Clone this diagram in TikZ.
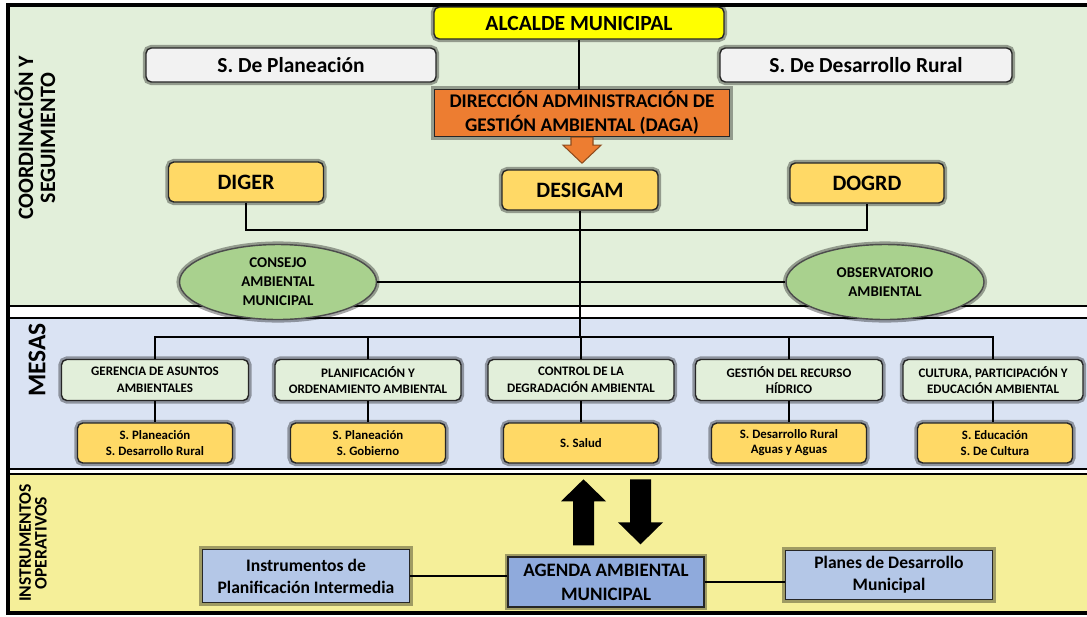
\documentclass[tikz,border=0pt]{standalone}
\usepackage{fontspec}
\setmainfont{Carlito}
\usepackage{color}
\definecolor{green1}{RGB}{226,239,218}
\definecolor{green2}{RGB}{169,209,142}
\definecolor{blue1}{RGB}{218,227,243}
\definecolor{blue2}{RGB}{180,199,231}
\definecolor{blue3}{RGB}{143,170,220}
\definecolor{yellow1}{RGB}{245,239,153}
\definecolor{yellow2}{RGB}{255,217,102}
\definecolor{yellow3}{RGB}{255,255,0}
\definecolor{orange1}{RGB}{237,125,49}
\definecolor{gray1}{RGB}{242,242,242}
\usepackage{tikz}
\usetikzlibrary{shapes.geometric,calc}
\tikzstyle{glow} = [preaction={draw=black,opacity=0.35,line width=3.5pt}]
\tikzstyle{box} = [rectangle,draw=black!85,line width=0.8pt,inner sep=1pt,align=center,glow]
\tikzstyle{roundbox} = [box,rounded corners=3pt]
\tikzstyle{oficina} = [roundbox,fill=yellow2,font=\fontsize{12.5}{14}\selectfont\bfseries]
\tikzstyle{secretaria} = [roundbox,fill=gray1,font=\fontsize{12.2}{14}\selectfont\bfseries]
\tikzstyle{consejo} = [ellipse,draw=black!70,line width=0.8pt,fill=green2,glow,align=center,inner sep=0pt,font=\fontsize{8.5}{10.8}\selectfont\bfseries]
\tikzstyle{mesa} = [roundbox,fill=green1,font=\fontsize{7.4}{9.5}\selectfont\bfseries]
\tikzstyle{apoyo} = [roundbox,fill=yellow2,font=\fontsize{7.3}{8.6}\selectfont\bfseries]
\tikzstyle{instrumento} = [box,fill=blue2,font=\fontsize{10}{12.5}\selectfont\bfseries]
\tikzstyle{seccion} = [align=center,font=\fontsize{12.5}{12.5}\selectfont\bfseries]
\tikzstyle{flecha1} = [fill=orange1,draw=orange1!60!black,line width=0.6pt]
\tikzstyle{flecha2} = [fill=black]
\tikzset{dims/.style 2 args={minimum width=#1*0.2mm,minimum height=#2*0.2mm}}

\begin{document}
\begin{tikzpicture}[x=0.02cm,y=-0.02cm,line width=0.8pt]
    \useasboundingbox (0,0) rectangle (1087,616);
    % fondos de las franjas
    \fill[green1] (8,5) rectangle (1087,306);
    \fill[blue1] (8,318) rectangle (1087,469);
    \fill[yellow1] (8,474) rectangle (1087,613);
    \draw[line width=0.6pt] (8,306) -- (1087,306) (8,318) -- (1087,318)
      (8,469) -- (1087,469) (8,474) -- (1087,474);
    \draw[line width=2.2pt] (1087,5) -- (8,5) -- (8,613) -- (1087,613);

    \node[seccion,rotate=90] (coord) at (35,138) {COORDINACIÓN Y\\SEGUIMIENTO};
    \node[seccion,rotate=90,font=\fontsize{14.5}{14}\selectfont\bfseries] (mesas) at (37,360) {MESAS};
    \node[seccion,rotate=90,font=\fontsize{10}{9}\selectfont\bfseries] (instrop) at (33,543) {INSTRUMENTOS\\OPERATIVOS};

    % coordinacion
    \node[roundbox,fill=yellow3,dims={290}{32},font=\fontsize{12.3}{14}\selectfont\bfseries] (alcalde) at (579,23) {ALCALDE MUNICIPAL};
    \node[secretaria,dims={290}{34}] (splan) at (291,65) {S. De Planeación};
    \node[secretaria,dims={292}{34}] (sdes) at (866,65) {S. De Desarrollo Rural};
    \node[box,fill=orange1,dims={295}{47},font=\fontsize{11}{13.5}\selectfont\bfseries] (daga) at (582,113) {DIRECCIÓN ADMINISTRACIÓN DE\\GESTIÓN AMBIENTAL (DAGA)};
    \node[oficina,dims={156}{40}] (desigam) at (580,190) {DESIGAM};
    \node[oficina,dims={155}{40}] (diger) at (246,182) {DIGER};
    \node[oficina,dims={154}{40}] (dogrd) at (867,183) {DOGRD};
    \node[consejo,dims={197}{75}] (cam) at (278,282) {CONSEJO\\AMBIENTAL\\MUNICIPAL};
    \node[consejo,dims={198}{75}] (observ) at (885,282) {OBSERVATORIO\\AMBIENTAL};

    \draw (alcalde.south) -- (alcalde.south |- daga.north);
    \draw[flecha1] ($(daga.south)+(-11,0)$) -- ++(0,8) -- ++(-8,0) -- ++(19,18)
      -- ++(19,-18) -- ++(-8,0) -- ++(0,-8) -- cycle;
    \coordinate (enlace) at (580,230);
    \coordinate (barra) at (581,337);
    \draw (diger.south) |- (enlace) -| (dogrd.south);
    \draw (desigam.south) -- (desigam.south |- barra);
    \draw (cam.east) -- (observ.west);

    % mesas
    \foreach \n/\x/\w/\txt in {1/155/187/{GERENCIA DE ASUNTOS\\AMBIENTALES},
        2/368/186/{PLANIFICACIÓN Y\\ORDENAMIENTO AMBIENTAL},
        3/581/186/{CONTROL DE LA\\DEGRADACIÓN AMBIENTAL},
        4/789/187/{GESTIÓN DEL RECURSO\\HÍDRICO},
        5/993/180/{CULTURA, PARTICIPACIÓN Y\\EDUCACIÓN AMBIENTAL}}
      \node[mesa,dims={\w}{41}] (m\n) at (\x,380) {\txt};
    \foreach \n/\x/\txt in {1/155/{S. Planeación\\S. Desarrollo Rural},
        2/368/{S. Planeación\\S. Gobierno},
        3/581/{S. Salud},
        4/789/{S. Desarrollo Rural\\Aguas y Aguas},
        5/995/{S. Educación\\S. De Cultura}}
      \node[apoyo,dims={155}{40}] (s\n) at (\x,443) {\txt};

    \draw (m1.north) |- (barra) -| (m5.north);
    \foreach \n in {2,3,4}
      \draw (m\n.north) -- (m\n.north |- barra);
    \foreach \n in {1,...,5}
      \draw (m\n.south) -- (m\n.south |- s\n.north);

    % instrumentos
    \node[box,fill=blue3,dims={196}{50},font=\fontsize{10.8}{13.5}\selectfont\bfseries] (agenda) at (606,582) {AGENDA AMBIENTAL\\MUNICIPAL};
    \node[instrumento,dims={207}{53}] (instr) at (306,576) {Instrumentos de\\Planificación Intermedia};
    \node[instrumento,dims={207}{49}] (planes) at (889,575) {Planes de Desarrollo\\Municipal};
    \draw (instr.east) -- (instr.east -| agenda.west);
    \draw (agenda.east) -- (agenda.east -| planes.west);
    \fill[flecha2] ($(agenda.north)+(-33,-11)$) -- ++(0,-44) -- ++(-12,0) -- ++(22.5,-22)
      -- ++(22.5,22) -- ++(-12,0) -- ++(0,44) -- cycle;
    \fill[flecha2] ($(agenda.north)+(24,-77)$) -- ++(0,43) -- ++(-12,0) -- ++(22.5,22)
      -- ++(22.5,-22) -- ++(-12,0) -- ++(0,-43) -- cycle;
\end{tikzpicture}
\end{document}
